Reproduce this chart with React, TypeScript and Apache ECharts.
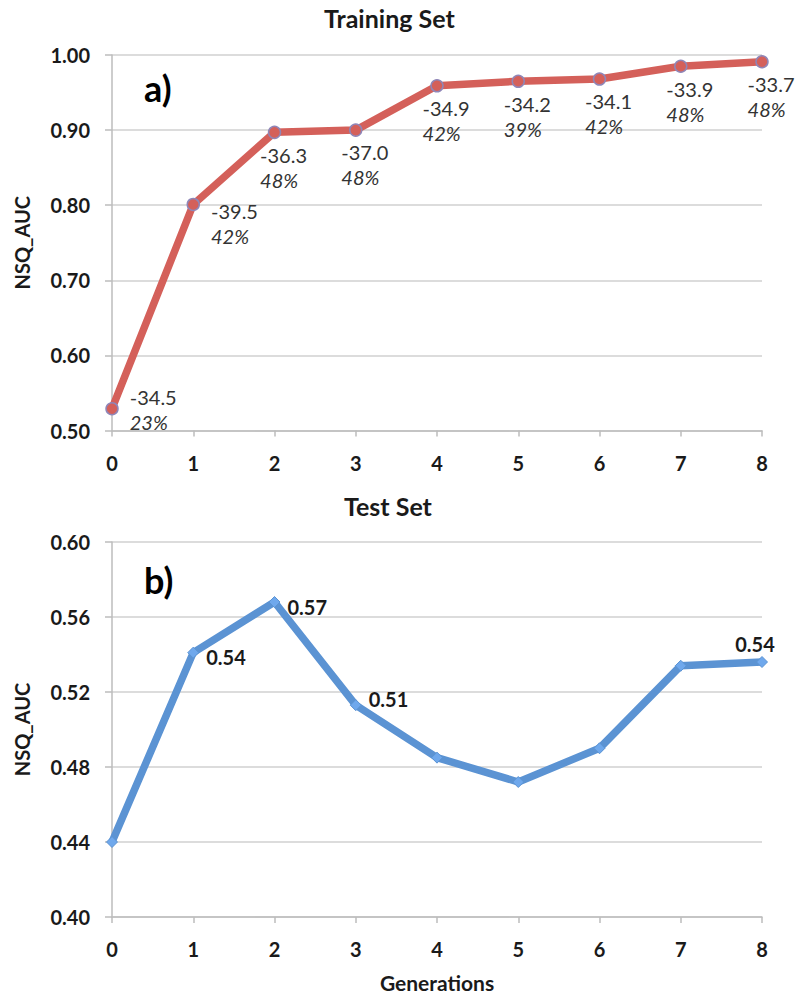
import React, { useEffect, useRef } from "react";
import * as echarts from "echarts";

const generations = [0, 1, 2, 3, 4, 5, 6, 7, 8];
const trainAuc = [0.529, 0.801, 0.897, 0.9, 0.959, 0.965, 0.968, 0.985, 0.991];
const trainScore = ["-34.5", "-39.5", "-36.3", "-37.0", "-34.9", "-34.2", "-34.1", "-33.9", "-33.7"];
const trainPct = ["23%", "42%", "48%", "48%", "42%", "39%", "42%", "48%", "48%"];
const testAuc = [0.44, 0.541, 0.568, 0.513, 0.485, 0.472, 0.49, 0.534, 0.536];
const testLabeled = [1, 2, 3, 8];

const FONT = "Lato, 'Open Sans', sans-serif";
const TXT = "#1a1a1a";

export default function App() {
  const ref = useRef<HTMLDivElement>(null);
  useEffect(() => {
    if (!ref.current) return;
    const chart = echarts.init(ref.current, null, { renderer: "svg" });

    const trainData = generations.map((g, i) => {
      const pos = i < 2 ? "right" : "bottom";
      const offset = i === 0 ? [0, 1] : i === 1 ? [0, 19] : [9, 0];
      const distance = i < 2 ? 11 : 3;
      return {
        value: [g, trainAuc[i]],
        label: {
          show: true,
          position: pos,
          offset,
          distance,
          align: pos === "right" ? "left" : "center",
          formatter: `{s|${trainScore[i]}}\n{p|${trainPct[i]}}`,
          rich: {
            s: { fontSize: 20, fontFamily: FONT, color: "#333", lineHeight: 25, align: "left" },
            p: { fontSize: 20, fontFamily: FONT, color: "#333", lineHeight: 25, fontStyle: "italic", align: "left" },
          },
        },
      };
    });

    const testData = generations.map((g, i) => {
      const shown = testLabeled.indexOf(i) >= 0;
      const isLast = i === generations.length - 1;
      let offset = [0, 4];
      if (i === 2) offset = [0, 5];
      if (i === 3) offset = [0, -6];
      if (isLast) offset = [-7, 0];
      return {
        value: [g, testAuc[i]],
        label: {
          show: shown,
          position: isLast ? "top" : "right",
          distance: isLast ? 2 : 7,
          offset,
          formatter: testAuc[i].toFixed(2),
          fontSize: 20,
          fontWeight: "bold",
          fontFamily: FONT,
          color: TXT,
        },
      };
    });

    const xAxisBase = (gridIndex: number, withName: boolean) => ({
      type: "value",
      gridIndex,
      min: 0,
      max: 8,
      interval: 1,
      splitLine: { show: false },
      axisLine: { show: true, lineStyle: { color: "#bdbdbd", width: 1.5 } },
      axisTick: { show: true, length: 6, lineStyle: { color: "#bdbdbd", width: 1.5 } },
      axisLabel: { margin: 22, fontSize: 20, fontWeight: "bold", fontFamily: FONT, color: TXT },
      name: withName ? "Generations" : "",
      nameLocation: "middle",
      nameGap: 55,
      nameTextStyle: { fontSize: 21, fontWeight: "bold", fontFamily: FONT, color: TXT },
    });

    const yAxisBase = (gridIndex: number, min: number, max: number, interval: number) => ({
      type: "value",
      gridIndex,
      min,
      max,
      interval,
      name: "NSQ_AUC",
      nameLocation: "middle",
      nameGap: 80,
      nameRotate: 90,
      nameTextStyle: { fontSize: 20, fontWeight: "bold", fontFamily: FONT, color: TXT },
      axisLine: { show: true, lineStyle: { color: "#bdbdbd", width: 1.5 } },
      axisTick: { show: true, length: 7, lineStyle: { color: "#bdbdbd", width: 1.5 } },
      splitLine: { show: true, lineStyle: { color: "#d0d0d0", width: 1.5 } },
      axisLabel: {
        margin: 22,
        fontSize: 20,
        fontWeight: "bold",
        fontFamily: FONT,
        color: TXT,
        formatter: (v: number) => v.toFixed(2),
      },
    });

    chart.setOption({
      animation: false,
      backgroundColor: "#ffffff",
      grid: [
        { left: 112, right: 38, top: 55, height: 375.5 },
        { left: 112, right: 38, top: 542, height: 375 },
      ],
      xAxis: [xAxisBase(0, false), xAxisBase(1, true)],
      yAxis: [yAxisBase(0, 0.5, 1.0, 0.1), yAxisBase(1, 0.4, 0.6, 0.04)],
      graphic: [
        {
          type: "text",
          left: 324,
          top: 5,
          style: { text: "Training Set", fontSize: 25, fontWeight: "bold", fontFamily: FONT, fill: TXT },
        },
        {
          type: "text",
          left: 344,
          top: 493,
          style: { text: "Test Set", fontSize: 25, fontWeight: "bold", fontFamily: FONT, fill: TXT },
        },
        {
          type: "text",
          left: 144,
          top: 70,
          style: { text: "a)", fontSize: 36, fontWeight: "bold", fontFamily: FONT, fill: "#000" },
        },
        {
          type: "text",
          left: 144,
          top: 562,
          style: { text: "b)", fontSize: 36, fontWeight: "bold", fontFamily: FONT, fill: "#000" },
        },
      ],
      series: [
        {
          type: "line",
          xAxisIndex: 0,
          yAxisIndex: 0,
          data: trainData,
          symbol: "circle",
          symbolSize: 12,
          lineStyle: { color: "#d4605a", width: 7.5 },
          itemStyle: { color: "#d4605a", borderColor: "#8f86b8", borderWidth: 1.5 },
          z: 3,
        },
        {
          type: "line",
          xAxisIndex: 1,
          yAxisIndex: 1,
          data: testData,
          symbol: "diamond",
          symbolSize: 11,
          lineStyle: { color: "#5b93d3", width: 7.5 },
          itemStyle: { color: "#6fa8ec", borderColor: "#5b93d3", borderWidth: 1 },
          z: 3,
        },
      ],
    });
    return () => chart.dispose();
  }, []);

  return (
    <div
      ref={ref}
      style={{ position: "absolute", left: 0, top: 0, width: 800, height: 1001, background: "#fff" }}
    />
  );
}
